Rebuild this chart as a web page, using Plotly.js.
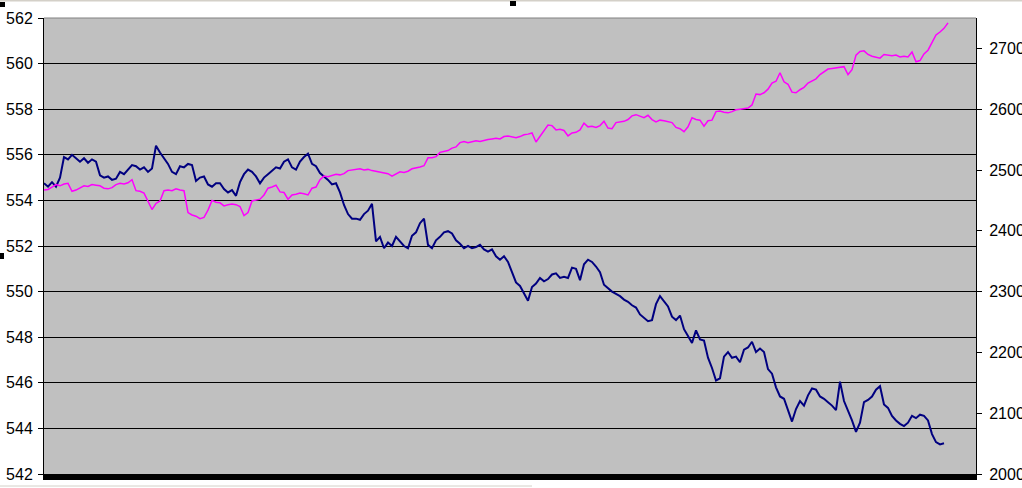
<!DOCTYPE html>
<html>
<head>
<meta charset="utf-8">
<script src="https://cdn.plot.ly/plotly-3.0.1.min.js"></script>
<style>
html,body{margin:0;padding:0;background:#fff;}
#chart{width:1022px;height:488px;}
</style>
</head>
<body>
<div id="chart"></div>
<script>
// Left-axis series (navy), one value per sample step
const navySeries = [
554.75,554.6,554.8,554.6,555.0,555.9,555.8,556.0,555.85,555.7,
555.85,555.65,555.8,555.7,555.1,555.0,555.05,554.9,554.95,555.25,
555.15,555.35,555.55,555.5,555.35,555.45,555.25,555.4,556.4,556.1,
555.85,555.6,555.25,555.15,555.5,555.45,555.6,555.55,554.85,555.0,
555.05,554.7,554.6,554.75,554.75,554.5,554.35,554.45,554.2,554.8,
555.15,555.35,555.25,555.05,554.75,555.0,555.15,555.3,555.45,555.4,
555.7,555.8,555.45,555.35,555.7,555.9,556.05,555.6,555.5,555.2,
555.05,554.9,554.7,554.75,554.35,553.8,553.4,553.2,553.2,553.15,
553.4,553.55,553.85,552.2,552.4,551.9,552.15,552.0,552.4,552.2,
552.0,551.9,552.45,552.6,553.0,553.2,552.05,551.9,552.25,552.4,
552.6,552.65,552.55,552.25,552.1,551.9,552.0,551.9,551.95,552.05,
551.85,551.75,551.85,551.55,551.4,551.55,551.3,550.85,550.4,550.25,
549.9,549.6,550.2,550.35,550.6,550.45,550.55,550.75,550.8,550.6,
550.65,550.6,551.05,551.0,550.5,551.2,551.4,551.3,551.1,550.85,
550.3,550.15,550.0,549.9,549.8,549.65,549.55,549.4,549.3,549.0,
548.85,548.7,548.75,549.45,549.8,549.55,549.35,548.9,548.75,548.95,
548.35,548.05,547.75,548.3,547.9,547.85,547.1,546.65,546.1,546.2,
547.15,547.35,547.1,547.15,546.9,547.45,547.55,547.8,547.35,547.5,
547.35,546.6,546.4,545.8,545.4,545.3,544.8,544.3,544.85,545.2,
545.0,545.45,545.75,545.7,545.4,545.3,545.15,545.0,544.8,546.05,
545.2,544.8,544.35,543.85,544.25,545.15,545.25,545.4,545.7,545.85,
545.05,544.9,544.55,544.35,544.2,544.1,544.25,544.55,544.45,544.6,
544.55,544.35,543.75,543.4,543.3,543.35
];
// Right-axis series (magenta)
const magentaSeries = [
2467,2468,2472,2476,2474,2477,2478,2465,2467,2470,
2474,2473,2476,2475,2474,2470,2469,2471,2476,2478,
2477,2479,2484,2466,2465,2462,2447,2435,2445,2449,
2466,2467,2466,2469,2467,2466,2430,2426,2424,2420,
2422,2434,2450,2447,2446,2441,2443,2444,2443,2440,
2425,2430,2449,2451,2452,2459,2470,2472,2475,2464,
2463,2452,2459,2460,2462,2461,2459,2470,2472,2484,
2490,2489,2491,2493,2492,2494,2499,2500,2501,2502,
2500,2501,2499,2498,2497,2495,2494,2490,2493,2497,
2496,2498,2502,2503,2505,2507,2520,2520,2522,2529,
2531,2532,2536,2538,2545,2547,2545,2546,2548,2547,
2549,2550,2551,2552,2551,2555,2556,2554,2553,2555,
2558,2559,2561,2546,2555,2566,2574,2573,2566,2567,
2565,2556,2561,2562,2566,2577,2571,2572,2570,2573,
2580,2569,2568,2578,2579,2580,2583,2589,2591,2588,
2586,2590,2583,2579,2582,2581,2580,2578,2570,2568,
2563,2571,2586,2583,2582,2572,2581,2582,2596,2597,
2595,2594,2596,2599,2600,2601,2602,2607,2625,2624,
2627,2633,2643,2646,2660,2645,2641,2628,2627,2632,
2636,2643,2646,2650,2657,2662,2666,2667,2668,2670,
2670,2657,2665,2689,2695,2696,2690,2687,2685,2684,
2690,2689,2688,2689,2686,2687,2686,2694,2678,2680,
2691,2697,2709,2722,2727,2733,2742
];
const leftTicks = [542,544,546,548,550,552,554,556,558,560,562];
const rightTicks = [2000,2100,2200,2300,2400,2500,2600,2700];

const steps = magentaSeries.map((_, i) => i);

const font = {family: 'Liberation Sans, Arial, sans-serif', size: 16, color: '#000'};

const traces = [
  {x: steps.slice(0, navySeries.length), y: navySeries, type: 'scatter', mode: 'lines',
   line: {color: '#000080', width: 2}, yaxis: 'y', hoverinfo: 'skip'},
  {x: steps, y: magentaSeries, type: 'scatter', mode: 'lines',
   line: {color: '#FF00FF', width: 1.5}, yaxis: 'y2', hoverinfo: 'skip'}
];

function px2paperX(p){ return (p - 44) / 932; }
function px2paperY(p){ return (474 - p) / 456; }

const layout = {
  width: 1022, height: 488,
  margin: {l: 44, r: 46, t: 18, b: 14, pad: 0},
  paper_bgcolor: '#FFFFFF',
  plot_bgcolor: '#C0C0C0',
  showlegend: false,
  font: font,
  xaxis: {range: [0, 233], showticklabels: false, showgrid: false, zeroline: false,
          showline: true, linecolor: '#000', linewidth: 6, ticks: '', fixedrange: true},
  yaxis: {range: [542, 562], tickvals: leftTicks, ticktext: leftTicks.map(String),
          ticks: 'outside', ticklen: 5, tickcolor: '#000', tickwidth: 1,
          showline: true, linecolor: '#000', linewidth: 1,
          showgrid: true, gridcolor: '#000', gridwidth: 1, zeroline: false,
          tickfont: font, ticklabelstandoff: 2},
  yaxis2: {range: [2000, 2750], overlaying: 'y', side: 'right', tickvals: rightTicks,
           ticktext: rightTicks.map(String),
           ticks: 'outside', ticklen: 5, tickcolor: '#000', tickwidth: 1,
           showline: true, linecolor: '#000', linewidth: 1, showgrid: false, zeroline: false,
           tickfont: font, ticklabelstandoff: 4},
  shapes: [
    {type: 'line', xref: 'paper', yref: 'paper', x0: 0, x1: 1, y0: 1, y1: 1,
     line: {color: '#808080', width: 1}, layer: 'above'},
    {type: 'line', xref: 'paper', yref: 'paper', x0: px2paperX(0), x1: px2paperX(1022),
     y0: px2paperY(0.5), y1: px2paperY(0.5), line: {color: '#D4D0C8', width: 2}},
    {type: 'rect', xref: 'paper', yref: 'paper', x0: px2paperX(0), x1: px2paperX(5),
     y0: px2paperY(2), y1: px2paperY(7), fillcolor: '#000', line: {width: 0}},
    {type: 'rect', xref: 'paper', yref: 'paper', x0: px2paperX(510), x1: px2paperX(516),
     y0: px2paperY(1), y1: px2paperY(6), fillcolor: '#000', line: {width: 0}},
    {type: 'rect', xref: 'paper', yref: 'paper', x0: px2paperX(0), x1: px2paperX(4),
     y0: px2paperY(253), y1: px2paperY(259), fillcolor: '#000', line: {width: 0}},
    {type: 'line', xref: 'paper', yref: 'paper', x0: px2paperX(0), x1: px2paperX(532),
     y0: px2paperY(486), y1: px2paperY(486), line: {color: '#D4D0C8', width: 1}}
  ]
};

Plotly.newPlot('chart', traces, layout, {staticPlot: true, displayModeBar: false});
</script>
</body>
</html>
